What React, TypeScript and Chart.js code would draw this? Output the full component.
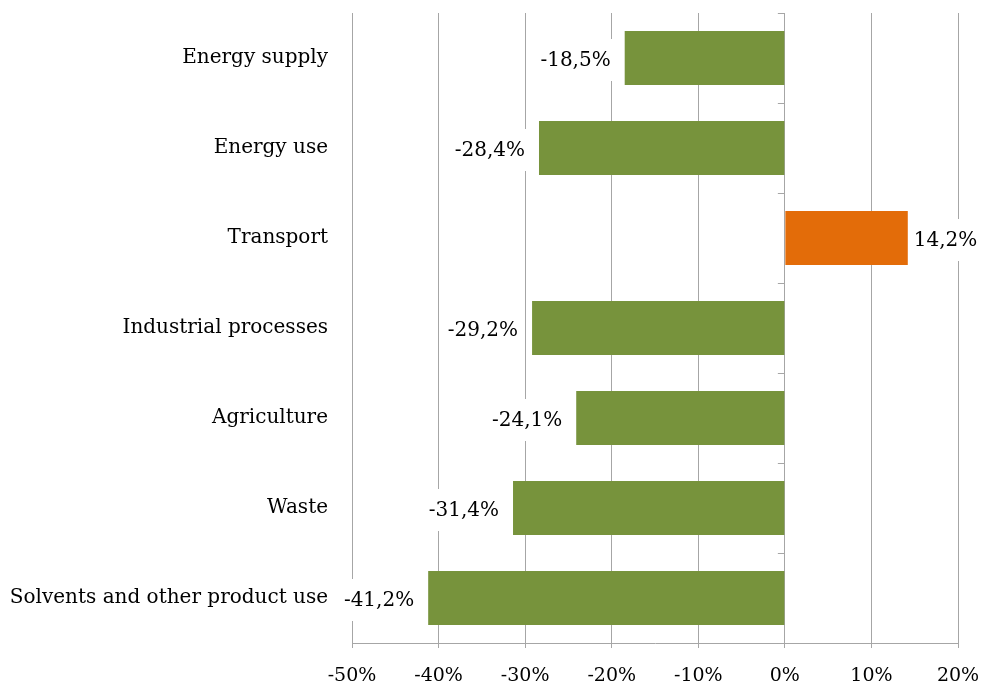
import React, { useEffect, useRef } from "react";
import { Chart, registerables } from "chart.js";

Chart.register(...registerables);

const categories = [
  "Energy supply",
  "Energy use",
  "Transport",
  "Industrial processes",
  "Agriculture",
  "Waste",
  "Solvents and other product use",
];
const changes = [-18.5, -28.4, 14.2, -29.2, -24.1, -31.4, -41.2];
const xMin = -50;
const xMax = 20;
const xStep = 10;

const GREEN = "#77933C";
const ORANGE = "#E36C09";
const GRID = "#A6A6A6";
const FONT_FAMILY = "'DejaVu Serif', 'Liberation Serif', serif";
const FONT_SIZE = 20;
const TICK_FONT_SIZE = 19;

const fmt = (v: number) => v.toFixed(1).replace(".", ",") + "%";

const labelPlugin = {
  id: "barLabels",
  beforeDatasetsDraw(chart: any) {
    const { ctx, chartArea, scales } = chart;
    const x0 = scales.x.getPixelForValue(0);
    const n = categories.length;
    const step = (chartArea.bottom - chartArea.top) / n;
    ctx.save();
    ctx.strokeStyle = GRID;
    ctx.lineWidth = 1;
    for (let i = 0; i <= n; i++) {
      const y = Math.round(chartArea.top + i * step) + 0.5;
      ctx.beginPath();
      ctx.moveTo(x0 - 7, y);
      ctx.lineTo(x0, y);
      ctx.stroke();
    }
    ctx.restore();
  },
  afterDatasetsDraw(chart: any) {
    const { ctx } = chart;
    const meta = chart.getDatasetMeta(0);
    ctx.save();
    ctx.font = `${FONT_SIZE}px ${FONT_FAMILY}`;
    ctx.textBaseline = "middle";
    meta.data.forEach((bar: any, i: number) => {
      const v = changes[i];
      const text = fmt(v);
      const w = ctx.measureText(text).width;
      const pad = 4;
      const h = 42;
      let left: number;
      if (v < 0) {
        left = bar.x - 14 - w;
      } else {
        left = bar.x + 6;
      }
      ctx.fillStyle = "#ffffff";
      ctx.fillRect(left - pad, bar.y - h / 2 + 2, w + pad * 2, h);
      ctx.fillStyle = "#000000";
      ctx.textAlign = "left";
      ctx.fillText(text, left, bar.y + 3);
    });
    ctx.restore();
  },
};

export default function App() {
  const ref = useRef<HTMLCanvasElement | null>(null);
  useEffect(() => {
    if (!ref.current) return;
    const chart = new Chart(ref.current, {
      type: "bar",
      data: {
        labels: categories,
        datasets: [
          {
            data: changes,
            backgroundColor: changes.map((v) => (v < 0 ? GREEN : ORANGE)),
            barPercentage: 0.6,
            categoryPercentage: 1,
            borderWidth: 0,
          },
        ],
      },
      options: {
        indexAxis: "y",
        animation: false,
        responsive: false,
        maintainAspectRatio: false,
        layout: { padding: { left: 0, right: 26, top: 13, bottom: 0 } },
        plugins: {
          legend: { display: false },
          tooltip: { enabled: false },
        },
        scales: {
          x: {
            min: xMin,
            max: xMax,
            ticks: {
              stepSize: xStep,
              color: "#000",
              padding: 17,
              font: { family: FONT_FAMILY, size: TICK_FONT_SIZE },
              callback: (v: any) => `${v}%`,
            },
            grid: {
              color: GRID,
              lineWidth: 1,
              drawTicks: true,
              tickLength: 5,
            },
            border: { display: true, color: GRID },
            afterFit: (s: any) => {
              s.height = 44;
              s.paddingLeft = 0;
              s.paddingRight = 0;
            },
          },
          y: {
            ticks: {
              color: "#000",
              padding: 24,
              font: { family: FONT_FAMILY, size: FONT_SIZE },
            },
            grid: { display: false, drawTicks: false },
            border: { display: false },
            afterFit: (s: any) => {
              s.width = 352;
              s.paddingTop = 0;
              s.paddingBottom = 0;
            },
          },
        },
      },
      plugins: [labelPlugin],
    });
    return () => chart.destroy();
  }, []);
  return (
    <div style={{ position: "fixed", left: 0, top: 0, width: 984, height: 687, background: "#fff" }}>
      <canvas ref={ref} width={984} height={687} />
    </div>
  );
}
